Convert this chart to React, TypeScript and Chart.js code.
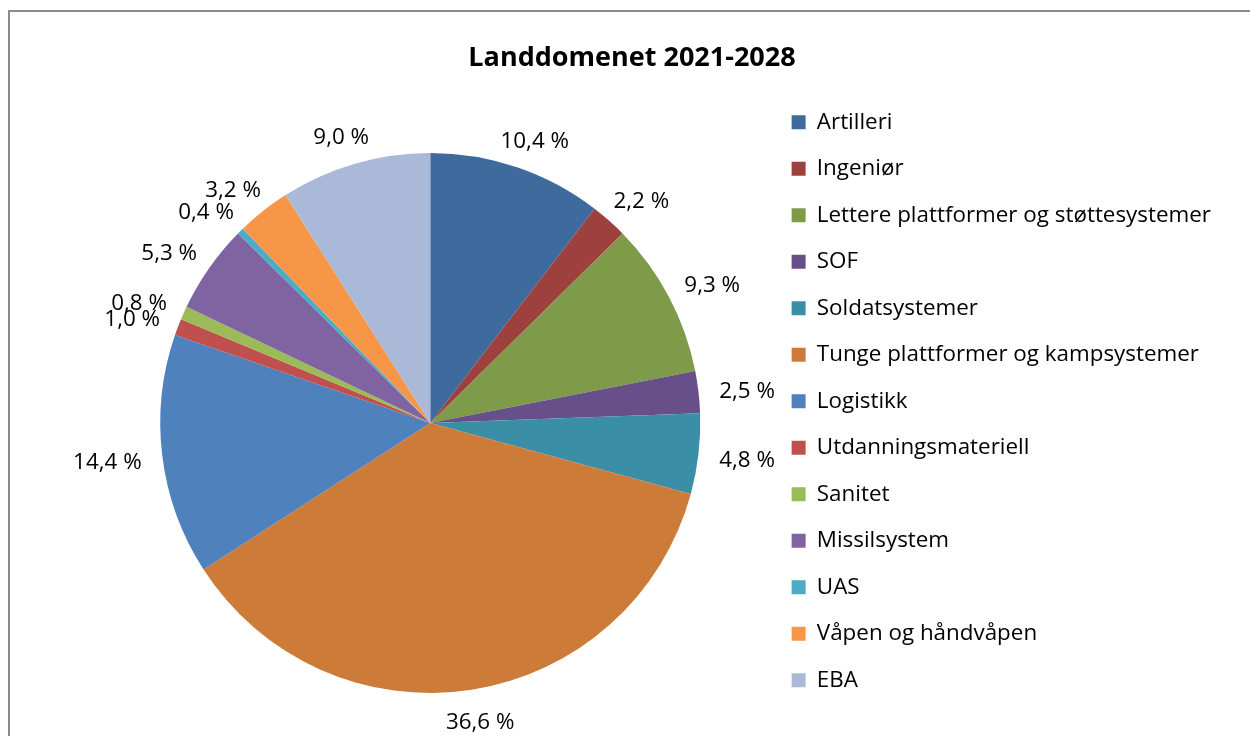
import React, { useEffect, useRef } from "react";
import { Chart, registerables } from "chart.js";

Chart.register(...registerables);

const chartTitle = "Landdomenet 2021-2028";

const categories = [
  "Artilleri",
  "Ingeniør",
  "Lettere plattformer og støttesystemer",
  "SOF",
  "Soldatsystemer",
  "Tunge plattformer og kampsystemer",
  "Logistikk",
  "Utdanningsmateriell",
  "Sanitet",
  "Missilsystem",
  "UAS",
  "Våpen og håndvåpen",
  "EBA",
];

const shares = [10.4, 2.2, 9.3, 2.5, 4.8, 36.6, 14.4, 1.0, 0.8, 5.3, 0.4, 3.2, 9.0];

const sliceColors = [
  "#3F6A9D",
  "#9E413E",
  "#7E9B49",
  "#694F89",
  "#3A8EA5",
  "#CC7B38",
  "#4F81BD",
  "#C0504D",
  "#9BBB59",
  "#8064A2",
  "#4BACC6",
  "#F79646",
  "#AAB9D7",
];

const FONT = '"Open Sans", "Noto Sans", sans-serif';
const LABEL_SIZE = 22.4;

const formatShare = (v: number) => v.toFixed(1).replace(".", ",") + " %";

const outsideLabels = {
  id: "outsideLabels",
  afterDatasetsDraw(chart: any) {
    const meta = chart.getDatasetMeta(0);
    const ctx = chart.ctx as CanvasRenderingContext2D;
    ctx.save();
    ctx.font = `${LABEL_SIZE}px ${FONT}`;
    ctx.fillStyle = "#000";
    ctx.textAlign = "center";
    ctx.textBaseline = "middle";
    meta.data.forEach((arc: any, i: number) => {
      const { x, y, startAngle, endAngle, outerRadius } = arc.getProps(
        ["x", "y", "startAngle", "endAngle", "outerRadius"],
        true
      );
      const mid = (startAngle + endAngle) / 2;
      const text = formatShare(shares[i]);
      const w = ctx.measureText(text).width;
      const h = LABEL_SIZE * 0.8;
      const r = outerRadius + 21;
      const cx = x + Math.cos(mid) * (r + w / 2);
      const cy = y + Math.sin(mid) * r + (Math.sin(mid) * h) / 2 + 3;
      ctx.fillText(text, cx, cy);
    });
    ctx.restore();
  },
};

const centerTitle = {
  id: "centerTitle",
  afterLayout(chart: any) {
    const t = chart.titleBlock;
    if (t) {
      t.left = 6;
      t.right = chart.width;
    }
  },
};

export default function App() {
  const canvasRef = useRef<HTMLCanvasElement | null>(null);

  useEffect(() => {
    if (!canvasRef.current) return;
    const chart = new Chart(canvasRef.current, {
      type: "pie",
      data: {
        labels: categories,
        datasets: [
          {
            data: shares,
            backgroundColor: sliceColors,
            borderWidth: 0,
            radius: 270,
          } as any,
        ],
      },
      options: {
        responsive: false,
        animation: false,
        devicePixelRatio: 1,
        layout: { padding: { left: 85, right: 29, top: 0, bottom: 9 } },
        plugins: {
          title: {
            display: true,
            text: chartTitle,
            color: "#000",
            font: { family: FONT, size: 27, weight: "bold", lineHeight: 1.2 },
            padding: { top: 34, bottom: 12.6 },
          },
          legend: {
            position: "right",
            align: "start",
            fullSize: false,
            labels: {
              boxWidth: 14,
              boxHeight: 14,
              padding: 24.1,
              color: "#000",
              font: { family: FONT, size: LABEL_SIZE },
            },
          },
          tooltip: { enabled: false },
        },
      },
      plugins: [outsideLabels, centerTitle],
    });
    return () => chart.destroy();
  }, []);

  return (
    <div
      style={{
        position: "fixed",
        left: 0,
        top: 0,
        width: 1250,
        height: 736,
        overflow: "hidden",
        background: "#fff",
      }}
    >
      <div
        style={{
          position: "absolute",
          left: 8,
          top: 10,
          width: 1400,
          height: 1000,
          borderLeft: "2px solid #8c8c8c",
          borderTop: "2px solid #8c8c8c",
        }}
      />
      <canvas
        ref={canvasRef}
        width={1242}
        height={760}
        style={{ position: "absolute", left: 8, top: 8, width: 1242, height: 760 }}
      />
    </div>
  );
}
